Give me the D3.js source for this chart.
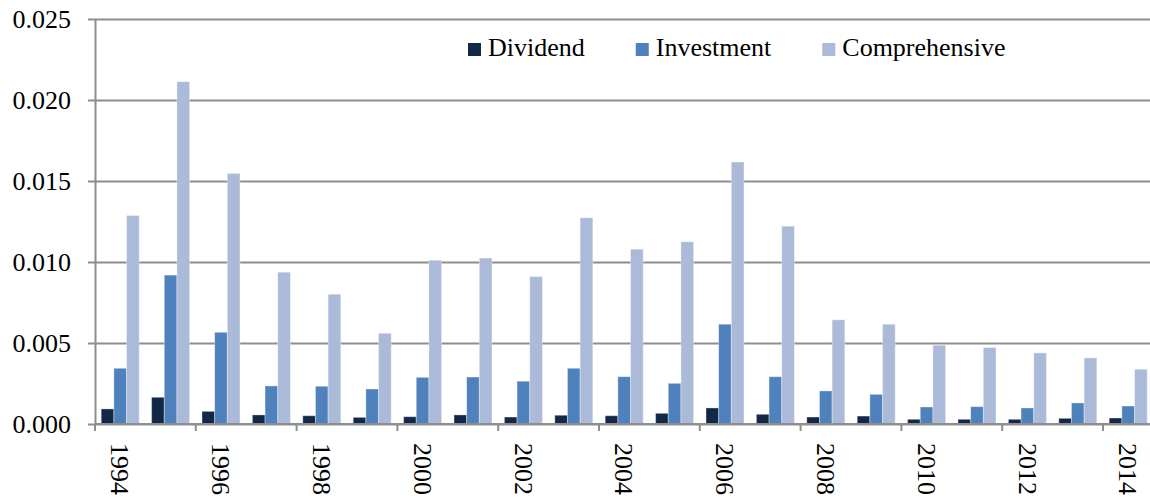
<!DOCTYPE html>
<meta charset="utf-8">
<style>
body { margin: 0; background: #fff; }
text {
  font-family: "Liberation Serif", "Times New Roman", serif;
  font-size: 26px;
  fill: #000;
}
.grid line { stroke: #8e8e8e; stroke-width: 2px; }
.grid path { display: none; }
.yaxis line, .yaxis path, .xaxis line { stroke: #8e8e8e; stroke-width: 2px; }
.bars rect { stroke: #fff; stroke-opacity: 0.35; stroke-width: 1px; }
</style>
<body>
<svg width="1150" height="499"></svg>
<script src="https://d3js.org/d3.v7.min.js"></script>
<script>

var years = ["1994", "1995", "1996", "1997", "1998", "1999", "2000", "2001", "2002", "2003", "2004",
             "2005", "2006", "2007", "2008", "2009", "2010", "2011", "2012", "2013", "2014"];
var labelYears = ["1994", "1996", "1998", "2000", "2002", "2004", "2006", "2008", "2010", "2012", "2014"];

var dividend = [0.00093, 0.00165, 0.00078, 0.00056, 0.00051, 0.00041, 0.00045, 0.00056, 0.00043, 0.00054, 0.00051,
                0.00066, 0.00099, 0.00060, 0.00043, 0.00049, 0.00029, 0.00029, 0.00029, 0.00035, 0.00037];
var investment = [0.00344, 0.00919, 0.00566, 0.00235, 0.00233, 0.00216, 0.00288, 0.00290, 0.00264, 0.00344, 0.00292,
                  0.00251, 0.00616, 0.00292, 0.00204, 0.00183, 0.00105, 0.00107, 0.00099, 0.00130, 0.00111];
var comprehensive = [0.01287, 0.02113, 0.01547, 0.00937, 0.00801, 0.00560, 0.01011, 0.01024, 0.00910, 0.01273, 0.01079,
                     0.01125, 0.01617, 0.01221, 0.00643, 0.00616, 0.00486, 0.00472, 0.00439, 0.00408, 0.00338];

var seriesNames = ["Dividend", "Investment", "Comprehensive"];
var seriesValues = [dividend, investment, comprehensive];
var colors = ["#132846", "#4f81bd", "#aabad8"];
var yTicks = [0, 0.005, 0.010, 0.015, 0.020, 0.025];

var svg = d3.select("svg"),
    width = +svg.attr("width");

var plotLeft = 95, plotTop = 19, plotBottom = 424, step = 50.4;

var x = d3.scaleBand().domain(years).range([plotLeft, plotLeft + step * years.length]);
var xs = d3.scaleBand().domain(seriesNames).range([6.2, step - 6.2]);
var y = d3.scaleLinear().domain([0, 0.025]).range([plotBottom, plotTop]);
var color = d3.scaleOrdinal().domain(seriesNames).range(colors);

// gridlines
svg.append("g")
    .attr("class", "grid")
    .attr("transform", "translate(" + plotLeft + ",0)")
    .call(d3.axisLeft(y).tickValues(yTicks).tickSize(-(width - plotLeft)).tickFormat(""));

// y axis with labels
svg.append("g")
    .attr("class", "yaxis")
    .attr("transform", "translate(" + plotLeft + ",0)")
    .call(d3.axisLeft(y).tickValues(yTicks).tickSizeInner(7).tickSizeOuter(0)
        .tickPadding(17).tickFormat(d3.format(".3f")));
svg.select(".yaxis").attr("font-size", null).attr("font-family", null);

// bars
var rows = years.map(function(yr, i) {
  return seriesNames.map(function(s, j) { return {year: yr, key: s, value: seriesValues[j][i]}; });
});

svg.append("g")
    .attr("class", "bars")
  .selectAll("g")
  .data(rows)
  .enter().append("g")
    .attr("transform", function(d) { return "translate(" + x(d[0].year) + ",0)"; })
  .selectAll("rect")
  .data(function(d) { return d; })
  .enter().append("rect")
    .attr("x", function(d) { return xs(d.key); })
    .attr("width", xs.bandwidth())
    .attr("y", function(d) { return y(d.value); })
    .attr("height", function(d) { return y(0) - y(d.value); })
    .attr("fill", function(d) { return color(d.key); });

// x axis
var xaxis = svg.append("g").attr("class", "xaxis");
xaxis.append("line")
    .attr("x1", plotLeft).attr("x2", width)
    .attr("y1", y(0)).attr("y2", y(0));
xaxis.selectAll("line.tick")
    .data(labelYears)
  .enter().append("line")
    .attr("class", "tick")
    .attr("x1", function(d) { return x(d); })
    .attr("x2", function(d) { return x(d); })
    .attr("y1", y(0)).attr("y2", y(0) + 7);
xaxis.selectAll("text")
    .data(labelYears)
  .enter().append("text")
    .attr("transform", function(d) {
      return "translate(" + (x(d) + x.bandwidth() / 2) + "," + (y(0) + 19) + ") rotate(90)";
    })
    .attr("dy", "0.34em")
    .text(function(d) { return d; });

// legend
var legend = svg.append("g").attr("class", "legend");
var lx = 468;
seriesNames.forEach(function(s) {
  legend.append("rect")
      .attr("x", lx).attr("y", 43)
      .attr("width", 13).attr("height", 13)
      .attr("fill", color(s));
  var t = legend.append("text")
      .attr("x", lx + 20).attr("y", 56)
      .text(s);
  lx += 20 + t.node().getComputedTextLength() + 51;
});

</script>
</body>
